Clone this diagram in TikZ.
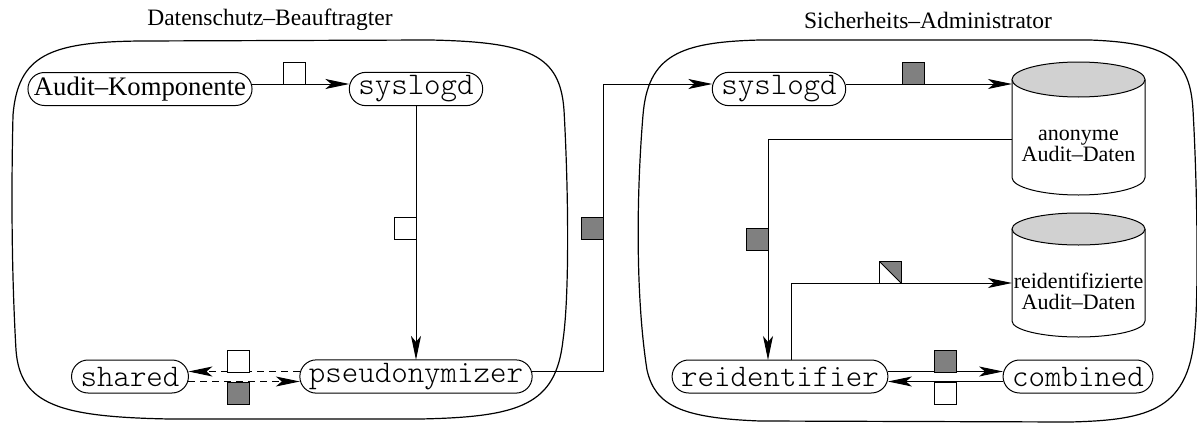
\documentclass[tikz,border=0pt]{standalone}
\usepackage{fontspec}
\setmainfont{Liberation Serif}
\setmonofont{lmmonolt10-regular.otf}
\usetikzlibrary{arrows.meta,backgrounds}
\definecolor{pktgray}{gray}{0.5}
\definecolor{topgray}{gray}{0.82}

\begin{document}
\begin{tikzpicture}
  [x=1pt,y=-1pt,line width=1pt,
   every node/.style={outer sep=0pt},
   party/.style={font=\fontsize{23.5}{26}\selectfont},
   comp/.style={draw,rounded corners=16.5pt,minimum height=33pt,inner xsep=6pt,font=\fontsize{26.7}{30}\selectfont},
   proc/.style={draw,rounded corners=16.5pt,minimum height=33pt,inner xsep=9pt,font=\fontsize{31.4}{33}\ttfamily},
   store/.style={minimum width=133pt,align=center,inner sep=0pt,font=\fontsize{22}{21}\selectfont},
   drum/.style={draw,line width=1pt},
   flow/.style={-{Stealth[length=24pt,width=10pt,inset=6pt]}},
   pkt/.style={draw,fill=white,minimum size=22pt,inner sep=0pt},
   pktfull/.style={pkt,fill=pktgray},
   pkthalf/.style={pkt,path picture={
     \fill[pktgray] (path picture bounding box.north west) -- (path picture bounding box.north east)
       -- (path picture bounding box.south east) -- cycle;
     \draw (path picture bounding box.north west) -- (path picture bounding box.south east);}}]
  \useasboundingbox (0,0) rectangle (1197,423);

  % the two domains
  \draw[line width=1.2pt] (13,115) .. controls (18,55) and (50,42) .. (140,41) -- (430,40)
    .. controls (530,42) and (560,55) .. (564,110) .. controls (569,200) and (569,300) .. (563,340)
    .. controls (556,405) and (520,417) .. (420,419) -- (170,419)
    .. controls (60,417) and (20,405) .. (16,350) .. controls (12,280) and (11,200) .. (13,115) -- cycle;
  \draw[line width=1.2pt] (643,115) .. controls (648,55) and (680,42) .. (760,40) -- (1090,40)
    .. controls (1170,43) and (1190,60) .. (1193,110) .. controls (1198,200) and (1198,300) .. (1195,330)
    .. controls (1190,410) and (1150,420) .. (1070,422) -- (760,421)
    .. controls (680,418) and (655,405) .. (647,370) .. controls (636,300) and (636,200) .. (643,115) -- cycle;
  \node[party] (dsb) at (270,20) {Datenschutz--Beauftragter};
  \node[party] (sia) at (928,20) {Sicherheits--Administrator};

  \node[comp] (audit) at (140,89) {Audit--Komponente};
  \node[proc] (slog1) at (416,89) {syslogd};
  \node[proc] (pseudo) at (416,376.5) {pseudonymizer};
  \node[proc] (shared) at (130,376.5) {shared};
  \node[proc] (slog2) at (779,89) {syslogd};
  \node[proc] (reidf) at (780,376.5) {reidentifier};
  \node[proc] (comb) at (1078,376.5) {combined};
  \node[store,minimum height=98pt] (anon) at (1078.5,146) {anonyme\\Audit--Daten};
  \node[store,minimum height=92pt] (reid) at (1078.5,291) {reidentifizierte\\Audit--Daten};

  % cylinders behind the store texts
  \begin{scope}[on background layer]
    \draw[drum,fill=white] ([yshift=17.5pt]anon.north west) -- ([yshift=17.5pt]anon.south west)
      arc[start angle=180,end angle=360,x radius=66.5pt,y radius=17.5pt] -- ([yshift=17.5pt]anon.north east);
    \draw[drum,fill=topgray] ([yshift=17.5pt]anon.north) ellipse[x radius=66.5pt,y radius=17.5pt];
    \draw[drum,fill=white] ([yshift=16pt]reid.north west) -- ([yshift=16pt]reid.south west)
      arc[start angle=180,end angle=360,x radius=66.5pt,y radius=16pt] -- ([yshift=16pt]reid.north east);
    \draw[drum,fill=topgray] ([yshift=16pt]reid.north) ellipse[x radius=66.5pt,y radius=16pt];
  \end{scope}

  \coordinate (hop) at (603,84);
  \draw[flow] ([yshift=5pt]audit.east) -- ([yshift=5pt]slog1.west);
  \draw[flow] (slog1.south) -- (pseudo.north);
  \draw[flow] ([yshift=5pt]pseudo.east) -| (hop) -- ([yshift=5pt]slog2.west);
  \draw[flow] ([yshift=5pt]slog2.east) -- (anon.west |- 0,84);
  \draw[flow] (anon.west |- 0,139) -| (reidf.north -| 768,0);
  \draw[flow] (reidf.north -| 791,0) |- (reid.west |- 0,283);
  \draw[flow] ([yshift=5pt]reidf.east) -- ([yshift=5pt]comb.west);
  \draw[flow] ([yshift=-5pt]comb.west) -- ([yshift=-5pt]reidf.east);
  \draw[flow,dash pattern=on 7pt off 5pt] ([yshift=5pt]pseudo.west) -- ([yshift=5pt]shared.east);
  \draw[flow,dash pattern=on 7pt off 5pt] ([yshift=-5pt]shared.east) -- ([yshift=-5pt]pseudo.west);

  % messages on the lines
  \node[pkt,anchor=south west] (m1) at (283,84) {};
  \node[pkt,anchor=east] (m2) at (416,228) {};
  \node[pktfull,anchor=east] (m3) at (603,228) {};
  \node[pktfull,anchor=south west] (m4) at (902,84) {};
  \node[pktfull,anchor=east] (m5) at (768,239) {};
  \node[pkthalf,anchor=south west] (m6) at (879,283) {};
  \node[pktfull,anchor=south west] (m7) at (934,372) {};
  \node[pkt,anchor=north west] (m8) at (934,382) {};
  \node[pkt,anchor=south west] (m9) at (227,372) {};
  \node[pktfull,anchor=north west] (m10) at (227,382) {};
\end{tikzpicture}
\end{document}
